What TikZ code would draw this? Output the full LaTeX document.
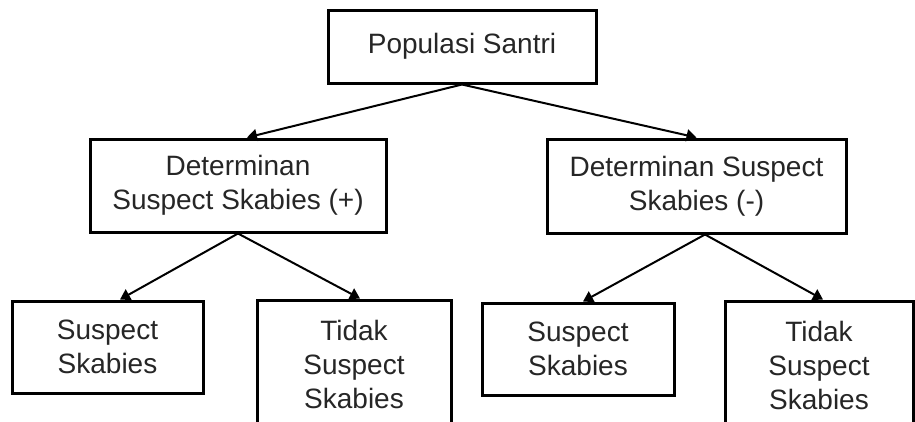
\documentclass[tikz,border=0pt]{standalone}
\usepackage{fontspec}
\setmainfont{Liberation Sans}
\usetikzlibrary{arrows.meta}
\tikzset{
  box/.style={draw=black, line width=3pt, fill=white, align=center, inner sep=0pt,
    font=\fontsize{28}{34}\selectfont, text=black!85},
  conn/.style={line width=2pt, -{Triangle[width=12pt,length=10pt]}}
}
\begin{document}
\begin{tikzpicture}[x=1pt,y=-1pt]
\useasboundingbox (0,0) rectangle (915,421);
\clip (0,0) rectangle (915,421);
\fill[white] (0,0) rectangle (915,421);
\node[box, minimum width=268pt, minimum height=73pt] (top) at (462,46.5) {Populasi Santri};
\node[box, minimum width=296pt, minimum height=93pt] (lmid) at (238,185.5) {Determinan\\Suspect Skabies (+)};
\node[box, minimum width=299pt, minimum height=94pt] (rmid) at (696.5,186) {Determinan Suspect\\Skabies (-)};
\node[box, minimum width=191pt, minimum height=92pt] (ll) at (107.5,347) {Suspect\\Skabies};
\node[box, minimum width=194pt, minimum height=128pt] (lr) at (354,364) {Tidak\\Suspect\\Skabies};
\node[box, minimum width=192pt, minimum height=92pt] (rl) at (578,349) {Suspect\\Skabies};
\node[box, minimum width=188pt, minimum height=128pt] (rr) at (819,365) {Tidak\\Suspect\\Skabies};
\draw[conn] (top.south) -- ([xshift=9pt]lmid.north);
\draw[conn] (top.south) -- (rmid.north);
\draw[conn] (lmid.south) -- ([xshift=12.5pt]ll.north);
\draw[conn] (lmid.south) -- ([xshift=6pt]lr.north);
\draw[conn] ([xshift=8.5pt]rmid.south) -- ([xshift=5pt]rl.north);
\draw[conn] ([xshift=8.5pt]rmid.south) -- ([xshift=4pt]rr.north);
\end{tikzpicture}
\end{document}
